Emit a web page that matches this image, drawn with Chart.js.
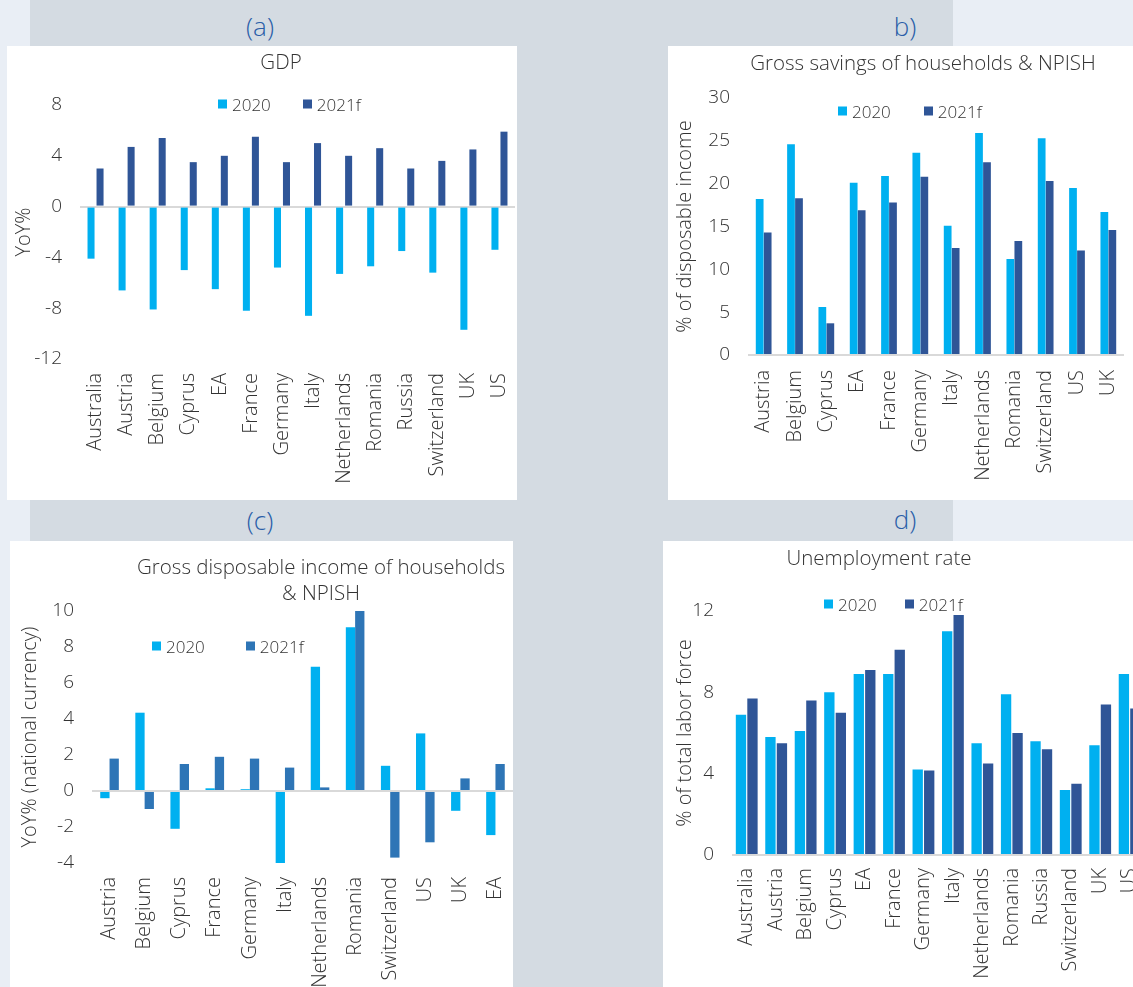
<!DOCTYPE html>
<html>
<head>
<meta charset="utf-8">
<script src="https://cdn.jsdelivr.net/npm/chart.js@4/dist/chart.umd.min.js"></script>
<style>
  html, body { margin: 0; padding: 0; width: 1133px; height: 987px; overflow: hidden; background: #e9eef5; font-family: 'Open Sans', sans-serif; }
  .band { position: absolute; left: 30px; top: 0; width: 923px; height: 987px; background: #d4dbe2; }
  .panel { position: absolute; background: #fff; overflow: hidden; }
  .panel canvas { position: absolute; top: 0; left: 0; }
  .tag { position: absolute; color: #2a5ea8; font-size: 26px; font-weight: 300; transform: translate(-50%, -50%); white-space: nowrap; line-height: 1; }
  .title { position: absolute; color: #333333; font-size: 20.5px; font-weight: 300; transform: translate(-50%, -50%); white-space: nowrap; line-height: 26px; text-align: center; }
  .legend { position: absolute; display: flex; align-items: center; font-size: 17px; font-weight: 300; color: #333333; transform: translateY(-50%); white-space: nowrap; }
  .legend span.sw { display: inline-block; width: 9px; height: 9px; margin-right: 5px; }
  .legend span.item { display: flex; align-items: center; }
</style>
</head>
<body>
<div class="band"></div>

<div class="tag" style="left:260px;top:26px">(a)</div>
<div class="tag" style="left:905px;top:26px">b)</div>
<div class="tag" style="left:260px;top:520px">(c)</div>
<div class="tag" style="left:905px;top:519px">d)</div>

<div class="panel" style="left:7px;top:46px;width:510px;height:454px"><canvas id="cA"></canvas></div>
<div class="panel" style="left:668px;top:46px;width:465px;height:454px"><canvas id="cB"></canvas></div>
<div class="panel" style="left:10px;top:541px;width:503px;height:446px"><canvas id="cC"></canvas></div>
<div class="panel" style="left:663px;top:541px;width:470px;height:446px"><canvas id="cD"></canvas></div>

<div class="title" style="left:281px;top:61px">GDP</div>
<div class="title" style="left:923px;top:62px">Gross savings of households &amp; NPISH</div>
<div class="title" style="left:321px;top:579px">Gross disposable income of households<br>&amp; NPISH</div>
<div class="title" style="left:879px;top:557px">Unemployment rate</div>

<div class="legend" id="lA" style="left:218px;top:104px"></div>
<div class="legend" id="lB" style="left:838px;top:111px"></div>
<div class="legend" id="lC" style="left:152px;top:646px"></div>
<div class="legend" id="lD" style="left:824px;top:604px"></div>

<script>
// ---- data ----
const seriesNames = ['2020', '2021f'];

// (a) GDP, YoY%
const gdpCountries = ['Australia', 'Austria', 'Belgium', 'Cyprus', 'EA', 'France', 'Germany', 'Italy', 'Netherlands', 'Romania', 'Russia', 'Switzerland', 'UK', 'US'];
const gdp2020  = [-4.1, -6.6, -8.1, -5.0, -6.5, -8.2, -4.8, -8.6, -5.3, -4.7, -3.5, -5.2, -9.7, -3.4];
const gdp2021f = [3.0, 4.7, 5.4, 3.5, 4.0, 5.5, 3.5, 5.0, 4.0, 4.6, 3.0, 3.6, 4.5, 5.9];

// (b) Gross savings of households & NPISH, % of disposable income
const savCountries = ['Austria', 'Belgium', 'Cyprus', 'EA', 'France', 'Germany', 'Italy', 'Netherlands', 'Romania', 'Switzerland', 'US', 'UK'];
const sav2020  = [18.2, 24.6, 5.6, 20.1, 20.9, 23.6, 15.1, 25.9, 11.2, 25.3, 19.5, 16.7];
const sav2021f = [14.3, 18.3, 3.7, 16.9, 17.8, 20.8, 12.5, 22.5, 13.3, 20.3, 12.2, 14.6];

// (c) Gross disposable income of households & NPISH, YoY% (national currency)
const incCountries = ['Austria', 'Belgium', 'Cyprus', 'France', 'Germany', 'Italy', 'Netherlands', 'Romania', 'Switzerland', 'US', 'UK', 'EA'];
const inc2020  = [-0.4, 4.35, -2.1, 0.15, 0.1, -4.15, 6.9, 9.1, 1.4, 3.2, -1.1, -2.45];
const inc2021f = [1.8, -1.0, 1.5, 1.9, 1.8, 1.3, 0.2, 10.0, -3.7, -2.85, 0.7, 1.5];

// (d) Unemployment rate, % of total labor force
const unCountries = ['Australia', 'Austria', 'Belgium', 'Cyprus', 'EA', 'France', 'Germany', 'Italy', 'Netherlands', 'Romania', 'Russia', 'Switzerland', 'UK', 'US'];
const un2020  = [6.9, 5.8, 6.1, 8.0, 8.9, 8.9, 4.2, 11.0, 5.5, 7.9, 5.6, 3.2, 5.4, 8.9];
const un2021f = [7.7, 5.5, 7.6, 7.0, 9.1, 10.1, 4.15, 11.8, 4.5, 6.0, 5.2, 3.5, 7.4, 7.2];

// ---- styling ----
const FONT = "'Open Sans', sans-serif";
const TEXT = '#333333';
const LIGHT = '#00b0f0';
const DARK = '#2f5597';
const MID = '#2e75b6';
const ZERO = '#d9d9d9';

function barChart(id, o) {
  const canvas = document.getElementById(id);
  canvas.width = o.w; canvas.height = o.h;
  return new Chart(canvas, {
    type: 'bar',
    data: {
      labels: o.labels,
      datasets: [
        { label: seriesNames[0], data: o.s1, backgroundColor: LIGHT, borderWidth: 0, barPercentage: o.barPct, categoryPercentage: o.catPct },
        { label: seriesNames[1], data: o.s2, backgroundColor: o.dark, borderWidth: 0, barPercentage: o.barPct, categoryPercentage: o.catPct }
      ]
    },
    options: {
      responsive: false,
      animation: false,
      devicePixelRatio: 1,
      layout: { padding: { left: 0, right: 10, top: o.padT, bottom: 0 } },
      plugins: {
        legend: { display: false },
        tooltip: { enabled: false },
        title: { display: false }
      },
      scales: {
        x: {
          grid: { display: true, drawOnChartArea: false, drawTicks: true, tickLength: o.gap, tickColor: 'rgba(0,0,0,0)' },
          border: { display: false },
          ticks: { minRotation: 90, maxRotation: 90, autoSkip: false, padding: 1, color: TEXT, font: { family: FONT, size: 20, weight: 300 } },
          afterFit(s) { s.height = o.xH; }
        },
        y: {
          min: o.min, max: o.max,
          ticks: { stepSize: o.step, padding: 18, color: TEXT, font: { family: FONT, size: 19, weight: 300 } },
          grid: { drawTicks: false, lineWidth: 2, color: c => (c.tick && c.tick.value === 0) ? ZERO : 'rgba(0,0,0,0)' },
          border: { display: false },
          title: { display: true, text: o.yTitle, color: TEXT, font: { family: FONT, size: 20, weight: 300, lineHeight: '24px' }, padding: { top: o.ytPad, bottom: 0 } },
          afterFit(s) { s.width = o.yW; }
        }
      }
    }
  });
}

function legendFor(chart, id, gap) {
  const el = document.getElementById(id);
  chart.data.datasets.forEach((ds, i) => {
    const item = document.createElement('span');
    item.className = 'item';
    if (i > 0) item.style.marginLeft = gap + 'px';
    const sw = document.createElement('span');
    sw.className = 'sw';
    sw.style.background = ds.backgroundColor;
    item.appendChild(sw);
    item.appendChild(document.createTextNode(ds.label));
    el.appendChild(item);
  });
}

const chartA = barChart('cA', {
  labels: gdpCountries, s1: gdp2020, s2: gdp2021f, dark: DARK,
  w: 518, h: 454, padT: 59,
  min: -12, max: 8, step: 4, yTitle: 'YoY%', ytPad: 5, yW: 73, xH: 141, gap: 13,
  barPct: 0.78, catPct: 0.58
});
const chartB = barChart('cB', {
  labels: savCountries, s1: sav2020, s2: sav2021f, dark: DARK,
  w: 466, h: 454, padT: 52,
  min: 0, max: 30, step: 5, yTitle: '% of disposable income', ytPad: 5, yW: 80, xH: 145, gap: 14,
  barPct: 0.97, catPct: 0.51
});
const chartC = barChart('cC', {
  labels: incCountries, s1: inc2020, s2: inc2021f, dark: MID,
  w: 513, h: 446, padT: 70,
  min: -4, max: 10, step: 2, yTitle: 'YoY% (national currency)', ytPad: 8, yW: 82, xH: 124, gap: 13,
  barPct: 1.0, catPct: 0.53
});
const chartD = barChart('cD', {
  labels: unCountries, s1: un2020, s2: un2021f, dark: DARK,
  w: 492, h: 446, padT: 70,
  min: 0, max: 12, step: 4, yTitle: '% of total labor force', ytPad: 10, yW: 69, xH: 132, gap: 12,
  barPct: 0.9, catPct: 0.78
});

legendFor(chartA, 'lA', 32);
legendFor(chartB, 'lB', 33);
legendFor(chartC, 'lC', 41);
legendFor(chartD, 'lD', 28);
</script>
</body>
</html>
